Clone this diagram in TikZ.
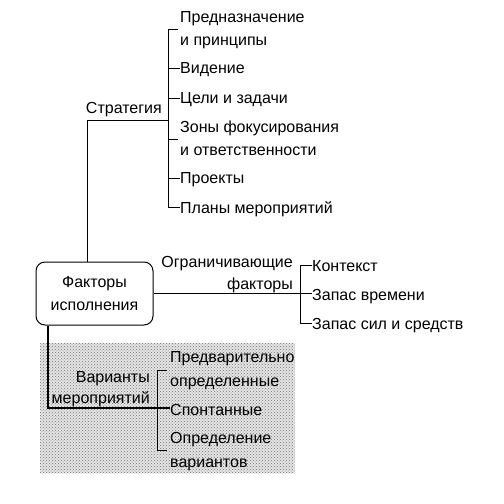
\documentclass[tikz,border=0pt]{standalone}
\usepackage{fontspec}
\setmainfont{Liberation Sans}
\usetikzlibrary{patterns}
\begin{document}
\begin{tikzpicture}[x=1pt,y=-1pt,
  lbl/.style={inner sep=0pt,font=\fontsize{16}{24}\selectfont},
  ln/.style={line width=1pt,black},
  boxst/.style={draw,line width=1pt,rounded corners=9pt,minimum width=117pt,minimum height=63pt,inner sep=0pt,align=center,font=\fontsize{16}{23}\selectfont}]
\useasboundingbox (0,0) rectangle (504,504);
% shaded area
\fill[black!10] (40,343) rectangle (295,473);
\fill[pattern=crosshatch dots,pattern color=black!55] (40,343) rectangle (295,473);

% central box
\node[boxst] (box) at (94.5,293.5) {Факторы\\исполнения};

% strategy branch
\node[lbl,anchor=base east] (strat) at (162,113) {Стратегия};
\coordinate (sb) at (168,120);
\coordinate (st) at (168,29);
\coordinate (sbot) at (168,207);
\draw[ln] ([xshift=-7.5pt]box.north) |- (sb);
\draw[ln] (st) -- (sbot);
\node[lbl,anchor=base west] (p1) at (180,22.7) {Предназначение};
\node[lbl,anchor=base west] (p2) at (180,45) {и принципы};
\node[lbl,anchor=base west] (vi) at (180,73) {Видение};
\node[lbl,anchor=base west] (ce) at (180,103) {Цели и задачи};
\node[lbl,anchor=base west] (z1) at (180,132) {Зоны фокусирования};
\node[lbl,anchor=base west] (z2) at (180,155) {и ответственности};
\node[lbl,anchor=base west] (pr) at (180,183) {Проекты};
\node[lbl,anchor=base west] (pl) at (180,213) {Планы мероприятий};
\coordinate (t1) at (178,29);
\coordinate (t4) at (178,139);
\draw[ln] (st) -- (t1);
\draw[ln] (168,68) -- (vi.west |- 0,68);
\draw[ln] (168,98) -- (ce.west |- 0,98);
\draw[ln] (168,139) -- (t4);
\draw[ln] (168,178) -- (pr.west |- 0,178);
\draw[ln] (sbot) -- (pl.west |- 0,207);

% constraints branch
\node[lbl,anchor=base east] (og1) at (293,267) {Ограничивающие};
\node[lbl,anchor=base east] (og2) at (293,289) {факторы};
\coordinate (cb) at (300,293.5);
\coordinate (ct) at (300,265);
\coordinate (cbot) at (300,323);
\draw[line width=1.4pt] (box.east) -- (cb);
\draw[ln] (ct) -- (cbot);
\node[lbl,anchor=base west] (ko) at (312,271.5) {Контекст};
\node[lbl,anchor=base west] (zv) at (312,300) {Запас времени};
\node[lbl,anchor=base west] (zs) at (312,329) {Запас сил и средств};
\draw[ln] (ct) -- (ko.west |- ct);
\draw[ln] (cb) -- (zv.west |- cb);
\draw[ln] (cbot) -- (zs.west |- cbot);

% action variants branch
\node[lbl,anchor=base east] (va1) at (150,382) {Варианты};
\node[lbl,anchor=base east] (va2) at (150,403) {мероприятий};
\coordinate (vb) at (157,408);
\coordinate (vt) at (157,370);
\coordinate (vbot) at (157,450);
\draw[line width=1.4pt] ([xshift=-46.5pt]box.south) |- (vb);
\draw[ln] (vt) -- (vbot);
\node[lbl,anchor=base west] (pd1) at (170,362) {Предварительно};
\node[lbl,anchor=base west] (pd2) at (170,386) {определенные};
\node[lbl,anchor=base west] (sp) at (170,415) {Спонтанные};
\node[lbl,anchor=base west] (od1) at (170,443) {Определение};
\node[lbl,anchor=base west] (od2) at (170,467) {вариантов};
\draw[ln] (vt) -- (167,370);
\draw[line width=1.4pt] (vb) -- (sp.west |- vb);
\draw[ln] (vbot) -- (167,450);
\end{tikzpicture}
\end{document}
